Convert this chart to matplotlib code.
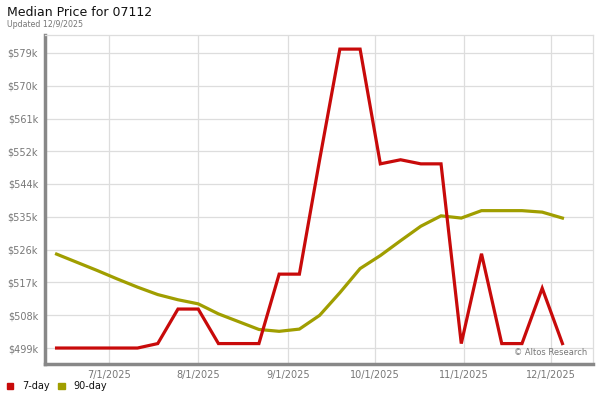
import matplotlib
matplotlib.use("Agg")
import matplotlib.pyplot as plt
import numpy as np
import datetime as dt

# weekly data points, 6/13/2025 .. 12/5/2025
START = dt.date(2025, 6, 13)
N_WEEKS = 26
dates = [START + dt.timedelta(days=7 * i) for i in range(N_WEEKS)]

# values in $k
seven_day = [499.4, 499.4, 499.4, 499.4, 499.4, 500.6, 509.9, 509.9, 500.6, 500.6,
             500.6, 519.3, 519.3, 550.1, 579.9, 579.9, 549.0, 550.1, 549.0, 549.0,
             500.6, 524.8, 500.6, 500.6, 515.5, 500.6]
ninety_day = [524.7, 522.5, 520.3, 518.0, 515.8, 513.8, 512.4, 511.3, 508.6, 506.5,
              504.4, 503.9, 504.5, 508.2, 514.3, 520.8, 524.3, 528.3, 532.2, 535.0,
              534.4, 536.4, 536.4, 536.4, 536.0, 534.4]

ytick_vals = [499.4, 508.2, 517.1, 525.9, 534.7, 543.6, 552.4, 561.2, 570.1, 578.9]
ytick_labels = ["$499k", "$508k", "$517k", "$526k", "$535k", "$544k", "$552k",
                "$561k", "$570k", "$579k"]
xtick_dates = [dt.date(2025, m, 1) for m in (7, 8, 9, 10, 11, 12)]
xtick_labels = ["7/1/2025", "8/1/2025", "9/1/2025", "10/1/2025", "11/1/2025", "12/1/2025"]

RED = "#c80a0a"
OLIVE = "#a09e00"
GREY = "#777777"

fig = plt.figure(figsize=(6, 4), dpi=100)
ax = fig.add_axes([0.075, 0.09, 0.913, 0.8225])

ax.plot(dates, ninety_day, color=OLIVE, lw=2.3, solid_joinstyle="miter", zorder=3)
ax.plot(dates, seven_day, color=RED, lw=2.3, solid_joinstyle="miter", zorder=4)

ax.set_xlim(dt.datetime(2025, 6, 9), dt.datetime(2025, 12, 15, 12))
ax.set_ylim(495.1, 583.7)

ax.set_yticks(ytick_vals)
ax.set_yticklabels(ytick_labels)
ax.set_xticks(xtick_dates)
ax.set_xticklabels(xtick_labels)
ax.tick_params(axis="both", length=0, labelsize=7, colors=GREY)
ax.tick_params(axis="y", pad=5)
ax.tick_params(axis="x", pad=4)

ax.grid(True, color="#dddddd", lw=0.9, zorder=0)
ax.set_axisbelow(True)
for side in ("top", "right"):
    ax.spines[side].set_color("#dddddd")
    ax.spines[side].set_linewidth(0.9)
for side in ("left", "bottom"):
    ax.spines[side].set_color("#888888")
    ax.spines[side].set_linewidth(2.5)

ax.text(0.99, 0.035, "\u00a9 Altos Research", transform=ax.transAxes,
        ha="right", va="center", fontsize=6, color=GREY)

fig.text(0.012, 0.968, "Median Price for 07112", fontsize=9, color="#111111",
         ha="left", va="center")
fig.text(0.012, 0.938, "Updated 12/9/2025", fontsize=5.7, color=GREY,
         ha="left", va="center")

# legend
fig.patches.append(plt.Rectangle((0.011, 0.027), 0.011, 0.0165, transform=fig.transFigure,
                                 color=RED, figure=fig))
fig.text(0.037, 0.035, "7-day", fontsize=7, color="#111111", ha="left", va="center")
fig.patches.append(plt.Rectangle((0.097, 0.027), 0.011, 0.0165, transform=fig.transFigure,
                                 color=OLIVE, figure=fig))
fig.text(0.122, 0.035, "90-day", fontsize=7, color="#111111", ha="left", va="center")

fig.savefig("out.png", dpi=100)
